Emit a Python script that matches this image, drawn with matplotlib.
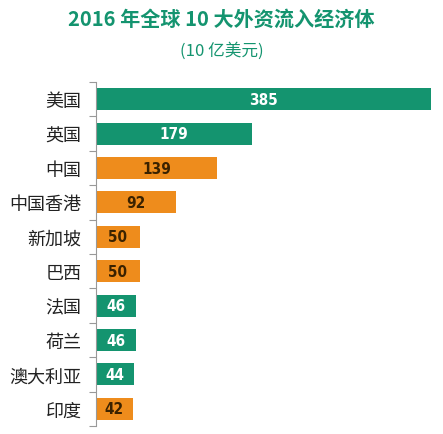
import matplotlib
matplotlib.use('Agg')
import matplotlib.pyplot as plt

plt.rcParams['font.family'] = ['Noto Sans CJK SC', 'DejaVu Sans']

# data
countries = ['美国', '英国', '中国', '中国香港', '新加坡', '巴西', '法国', '荷兰', '澳大利亚', '印度']
values = [385, 179, 139, 92, 50, 50, 46, 46, 44, 42]
developing = [False, False, True, True, True, True, False, False, False, True]

green = '#14946f'
orange = '#ee8c1c'

fig = plt.figure(figsize=(4.43, 4.35), dpi=100)
ax = fig.add_axes([96 / 443, 1 - 427 / 435, 335 / 443, 344 / 435])

n = len(countries)
ypos = list(range(n))
colors = [orange if d else green for d in developing]
ax.barh(ypos, values, height=0.64, color=colors)

for y, v, d in zip(ypos, values, developing):
    ax.text(v / 2, y, str(v), ha='center', va='center',
            color='#3a2200' if d else 'white', fontsize=11, fontweight='bold',
            family='DejaVu Sans', fontstretch='condensed')

ax.set_ylim(n - 0.5, -0.5)
ax.set_xlim(0, 385)
ax.set_yticks(ypos)
ax.set_yticklabels(countries, fontsize=13, color='#222222')
ax.set_yticks([i - 0.5 for i in range(n + 1)], minor=True)
ax.tick_params(axis='y', which='major', length=0, pad=10.5)
ax.tick_params(axis='y', which='minor', length=5, color='#999999', width=0.8)
ax.set_xticks([])
for s in ['top', 'right', 'bottom']:
    ax.spines[s].set_visible(False)
ax.spines['left'].set_color('#999999')
ax.spines['left'].set_linewidth(0.8)

fig.text(0.5, 1 - 19 / 435, '2016 年全球 10 大外资流入经济体', ha='center', va='center',
         fontsize=14.5, fontweight='bold', color=green)
fig.text(0.5, 1 - 51 / 435, '(10 亿美元)', ha='center', va='center',
         fontsize=12, style='italic', color=green)

fig.savefig('out.png', dpi=100)
